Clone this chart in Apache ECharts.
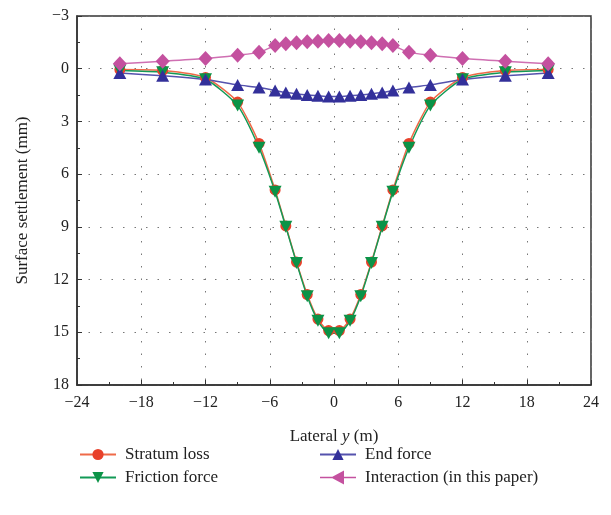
<!DOCTYPE html>
<html>
<head>
<meta charset="utf-8">
<script src="https://cdn.jsdelivr.net/npm/echarts@6/dist/echarts.min.js"></script>
<style>
  html, body { margin: 0; padding: 0; background: #fff; }
  #chart { width: 611px; height: 515px; }
</style>
</head>
<body>
<div id="chart"></div>
<script>
// lateral positions (m)
const lateralY = [-20, -16, -12, -9, -7, -5.5, -4.5, -3.5, -2.5, -1.5, -0.5, 0.5, 1.5, 2.5, 3.5, 4.5, 5.5, 7, 9, 12, 16, 20];
// surface settlement (mm)
const stratumLoss = [0.05, 0.1, 0.5, 1.9, 4.25, 6.9, 8.95, 11.0, 12.85, 14.25, 14.9, 14.9, 14.25, 12.85, 11.0, 8.95, 6.9, 4.25, 1.9, 0.5, 0.1, 0.05];
const frictionForce = [0.1, 0.2, 0.6, 2.1, 4.5, 7.0, 9.0, 11.05, 12.95, 14.35, 15.05, 15.05, 14.35, 12.95, 11.05, 9.0, 7.0, 4.5, 2.1, 0.6, 0.2, 0.1];
const endForce = [0.25, 0.4, 0.62, 0.92, 1.07, 1.24, 1.36, 1.43, 1.5, 1.54, 1.58, 1.58, 1.54, 1.5, 1.43, 1.36, 1.24, 1.07, 0.92, 0.62, 0.4, 0.25];
const interaction = [-0.28, -0.43, -0.58, -0.77, -0.93, -1.32, -1.42, -1.48, -1.53, -1.57, -1.6, -1.6, -1.57, -1.53, -1.48, -1.42, -1.32, -0.93, -0.77, -0.58, -0.43, -0.28];

const FONT = "'Liberation Serif', 'DejaVu Serif', serif";
const minus = v => String(v).replace('-', '\u2212');
const pairs = arr => lateralY.map((x, i) => [x, arr[i]]);

let myChart = echarts.init(document.getElementById('chart'));
myChart.setOption({
  animation: false,
  grid: {
    left: 77, right: 20, top: 16, bottom: 130,
    show: true, borderColor: '#333', borderWidth: 1.5
  },
  legend: [
    {
      left: 74, top: 441, orient: 'vertical', itemGap: 6,
      itemWidth: 36, itemHeight: 14,
      textStyle: { fontFamily: FONT, fontSize: 17, color: '#222', padding: [0, 0, 0, 4] },
      data: ['Stratum loss', 'Friction force']
    },
    {
      left: 314, top: 441, orient: 'vertical', itemGap: 6,
      itemWidth: 36, itemHeight: 14,
      textStyle: { fontFamily: FONT, fontSize: 17, color: '#222', padding: [0, 0, 0, 4] },
      data: ['End force', {
        name: 'Interaction (in this paper)',
        icon: 'path://M0 6.2 L36 6.2 L36 7.8 L0 7.8 Z M11 7 L24 0 L24 14 Z'
      }]
    }
  ],
  xAxis: {
    type: 'value', min: -24, max: 24, interval: 6,
    name: 'Lateral {i|y} (m)', nameLocation: 'middle', nameGap: 43,
    nameTextStyle: {
      fontFamily: FONT, fontSize: 17, color: '#222',
      rich: { i: { fontFamily: FONT, fontSize: 17, fontStyle: 'italic', color: '#222' } }
    },
    axisLine: { onZero: false, lineStyle: { color: '#333', width: 1.5 } },
    axisTick: { inside: true, length: 5, lineStyle: { color: '#333' } },
    minorTick: { show: true, splitNumber: 2, length: 3, lineStyle: { color: '#333' } },
    axisLabel: { fontFamily: FONT, fontSize: 16, color: '#222', margin: 10, formatter: minus },
    splitLine: { show: true, lineStyle: { color: '#777', width: 1, type: [1.5, 11] } }
  },
  yAxis: {
    type: 'value', min: -3, max: 18, interval: 3, inverse: true,
    name: 'Surface settlement (mm)', nameLocation: 'middle', nameGap: 46,
    nameTextStyle: { fontFamily: FONT, fontSize: 17, color: '#222' },
    axisLine: { show: true, onZero: false, lineStyle: { color: '#333', width: 1.5 } },
    axisTick: { show: true, inside: true, length: 5, lineStyle: { color: '#333' } },
    minorTick: { show: true, splitNumber: 2, length: 3, lineStyle: { color: '#333' } },
    axisLabel: { fontFamily: FONT, fontSize: 16, color: '#222', margin: 8, formatter: minus },
    splitLine: { show: true, lineStyle: { color: '#777', width: 1, type: [1.5, 10] } }
  },
  series: [
    {
      name: 'Stratum loss', type: 'line', smooth: 0.2,
      symbol: 'circle', symbolSize: 11,
      itemStyle: { color: '#e8412b' },
      lineStyle: { color: '#ef6a48', width: 1.5 },
      data: pairs(stratumLoss)
    },
    {
      name: 'Friction force', type: 'line', smooth: 0.2,
      symbol: 'path://M0 0 L10 0 L5 9 Z', symbolSize: [13, 12],
      itemStyle: { color: '#0b9347' },
      lineStyle: { color: '#129a56', width: 1.5 },
      data: pairs(frictionForce)
    },
    {
      name: 'End force', type: 'line', smooth: 0.2,
      symbol: 'triangle', symbolSize: [13, 12],
      itemStyle: { color: '#33309a' },
      lineStyle: { color: '#5552ad', width: 1.5 },
      data: pairs(endForce)
    },
    {
      name: 'Interaction (in this paper)', type: 'line', smooth: 0.2,
      symbol: 'diamond', symbolSize: [14, 15],
      itemStyle: { color: '#c4519f' },
      lineStyle: { color: '#cf6fb2', width: 1.5 },
      data: pairs(interaction)
    }
  ]
});
window.addEventListener('resize', () => { if (myChart) myChart.resize(); });
</script>
</body>
</html>
